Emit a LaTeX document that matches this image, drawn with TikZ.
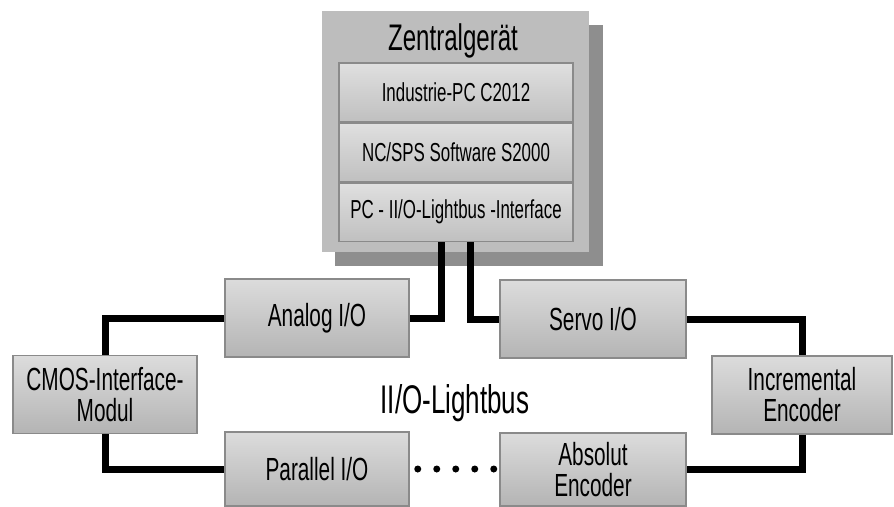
\documentclass[tikz,border=0pt]{standalone}
\usepackage{fontspec}
\setmainfont[FakeStretch=0.65]{Liberation Sans}
\usepackage{xcolor}
\usetikzlibrary{positioning,calc}

\definecolor{boxtop}{HTML}{DCDCDC}
\definecolor{boxbot}{HTML}{B4B4B4}
\definecolor{boxedge}{HTML}{8A8A8A}
\definecolor{zgray}{HTML}{BDBDBD}
\definecolor{shadowgray}{HTML}{8E8E8E}

\begin{document}
\begin{tikzpicture}[x=1pt, y=-1pt,
    iobox/.style={draw=boxedge, line width=1.5pt, top color=boxtop, bottom color=boxbot,
        minimum width=184pt, minimum height=78pt, inner sep=0pt, align=center,
        font=\fontsize{32}{31}\selectfont},
    cpubox/.style={draw=boxedge, line width=1.5pt, top color=boxtop!90!white, bottom color=boxbot!70!boxtop,
        minimum width=234pt, minimum height=58.5pt, inner sep=0pt,
        font=\fontsize{26}{28}\selectfont},
    bus/.style={line width=7pt, black}]
    \useasboundingbox (0,0) rectangle (894,506);

    % Zentralgeraet with shadow
    \node[fill=zgray, minimum width=267pt, minimum height=241pt, inner sep=0pt] (zentral) at (455.5,131.5) {};
    \fill[shadowgray] ($(zentral.north east)+(0,14)$) rectangle ($(zentral.south east)+(14,14)$);
    \fill[shadowgray] ($(zentral.south west)+(13,0)$) rectangle ($(zentral.south east)+(14,14)$);
    \node[font=\fontsize{37}{40}\selectfont, anchor=base] (title) at (453,50) {Zentralgerät};

    % Inner parts
    \node[cpubox] (pc) at (456,92) {Industrie-PC C2012};
    \node[cpubox, below=0pt of pc] (sw) {NC/SPS Software S2000};
    \node[cpubox, below=0pt of sw] (iface) {PC - II/O-Lightbus -Interface};

    % Bus stations
    \node[iobox] (analog) at (317,318) {Analog I/O};
    \node[iobox, minimum width=186pt] (servo) at (593,319) {Servo I/O};
    \node[iobox] (cmos) at (105,394.5) {CMOS-Interface-\\Modul};
    \node[iobox, minimum width=180pt] (incr) at (802,395) {Incremental\\Encoder};
    \node[iobox, minimum height=74pt] (parallel) at (317,469) {Parallel I/O};
    \node[iobox, minimum width=186pt, minimum height=73pt] (absolut) at (593,469.5) {Absolut\\Encoder};

    % Ring lines
    \draw[bus] ($(iface.south)+(-15,0)$) |- (analog.east);
    \draw[bus] ($(iface.south)+(14,0)$) |- (servo.west);
    \draw[bus] (analog.west) -| (cmos.north);
    \draw[bus] (cmos.south) |- (parallel.west);
    \draw[bus] (servo.east) -| (incr.north);
    \draw[bus] (incr.south) |- (absolut.east);

    % Open part of the ring
    \foreach \i in {0,...,4}
        \fill ($(parallel.east)+(8+19*\i,0)$) circle (3.5pt);

    \node[font=\fontsize{40}{44}\selectfont, anchor=base] (ring) at (455,413) {II/O-Lightbus};
\end{tikzpicture}
\end{document}
